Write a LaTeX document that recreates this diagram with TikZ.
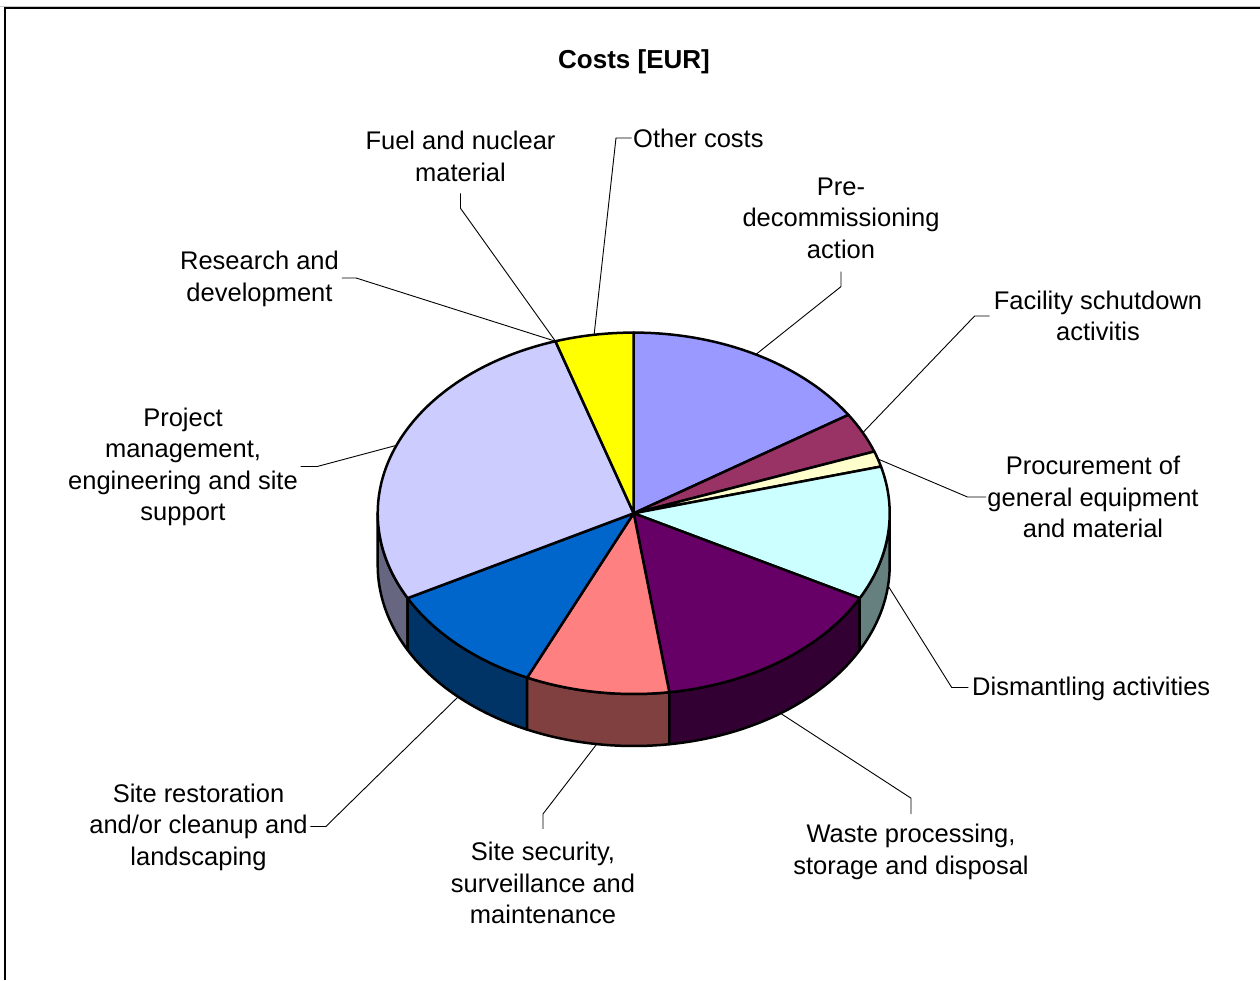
\documentclass[tikz,border=0pt]{standalone}
\usepackage{fontspec}
\setmainfont{Liberation Sans}
\definecolor{cPre}{HTML}{9999FF}
\definecolor{cFac}{HTML}{993366}
\definecolor{cProc}{HTML}{FFFFCC}
\definecolor{cDism}{HTML}{CCFFFF}
\definecolor{cWaste}{HTML}{660066}
\definecolor{cSec}{HTML}{FF8080}
\definecolor{cRest}{HTML}{0066CC}
\definecolor{cPM}{HTML}{CCCCFF}
\definecolor{cOther}{HTML}{FFFF00}
\definecolor{sDism}{HTML}{668080}
\definecolor{sWaste}{HTML}{330033}
\definecolor{sSec}{HTML}{804040}
\definecolor{sRest}{HTML}{003366}
\definecolor{sPM}{HTML}{666680}
\begin{document}
\begin{tikzpicture}[x=1pt,y=1pt,
  lbl/.style={font=\fontsize{25.5}{31.5}\selectfont, align=center, inner sep=0pt},
  lead/.style={draw=black, line width=0.9pt},
  slice/.style={draw=black, line width=2.5pt, line join=round},
  ell/.style={x radius=256pt, y radius=180.7pt}]
\useasboundingbox (0,0) rectangle (1260,980);
% frame
\draw[gray!45, line width=1pt] (0,973.6) -- (1260,973.6);
\draw[black, line width=1.7pt] (5.3,0) -- (5.3,971.8) -- (1260,971.8);
% title
\node[lbl, font=\fontsize{26}{31.5}\selectfont\bfseries] (title) at (634,918) {Costs [EUR]};
% pie
\begin{scope}[shift={(633.7,466.7)}]
  % sides
  \filldraw[slice, fill=sPM] (-180:256pt and 180.7pt) arc[ell, start angle=-180, end angle=-152] -- ++(0,-52) arc[ell, start angle=-152, end angle=-180] -- cycle;
  \filldraw[slice, fill=sRest] (-152:256pt and 180.7pt) arc[ell, start angle=-152, end angle=-114.6] -- ++(0,-52) arc[ell, start angle=-114.6, end angle=-152] -- cycle;
  \filldraw[slice, fill=sSec] (-114.6:256pt and 180.7pt) arc[ell, start angle=-114.6, end angle=-82] -- ++(0,-52) arc[ell, start angle=-82, end angle=-114.6] -- cycle;
  \filldraw[slice, fill=sWaste] (-82:256pt and 180.7pt) arc[ell, start angle=-82, end angle=-28] -- ++(0,-52) arc[ell, start angle=-28, end angle=-82] -- cycle;
  \filldraw[slice, fill=sDism] (-28:256pt and 180.7pt) arc[ell, start angle=-28, end angle=0] -- ++(0,-52) arc[ell, start angle=0, end angle=-28] -- cycle;
  % top
  \filldraw[slice, fill=cPre] (0,0) -- (90:256pt and 180.7pt) arc[ell, start angle=90, end angle=33] -- cycle;
  \filldraw[slice, fill=cFac] (0,0) -- (33:256pt and 180.7pt) arc[ell, start angle=33, end angle=20] -- cycle;
  \filldraw[slice, fill=cProc] (0,0) -- (20:256pt and 180.7pt) arc[ell, start angle=20, end angle=15] -- cycle;
  \filldraw[slice, fill=cDism] (0,0) -- (15:256pt and 180.7pt) arc[ell, start angle=15, end angle=-28] -- cycle;
  \filldraw[slice, fill=cWaste] (0,0) -- (-28:256pt and 180.7pt) arc[ell, start angle=-28, end angle=-82] -- cycle;
  \filldraw[slice, fill=cSec] (0,0) -- (-82:256pt and 180.7pt) arc[ell, start angle=-82, end angle=-114.6] -- cycle;
  \filldraw[slice, fill=cRest] (0,0) -- (-114.6:256pt and 180.7pt) arc[ell, start angle=-114.6, end angle=-152] -- cycle;
  \filldraw[slice, fill=cPM] (0,0) -- (208:256pt and 180.7pt) arc[ell, start angle=208, end angle=107.8] -- cycle;
  \filldraw[slice, fill=cOther] (0,0) -- (107.8:256pt and 180.7pt) arc[ell, start angle=107.8, end angle=90] -- cycle;
  % leader anchor points on the pie
  \coordinate (pOther) at (98.9:256pt and 180.7pt);
  \coordinate (pFuel) at (107.8:256pt and 180.7pt);
  \coordinate (pPM) at (157.9:256pt and 180.7pt);
  \coordinate (pPre) at (61.5:256pt and 180.7pt);
  \coordinate (pFac) at (26.5:256pt and 180.7pt);
  \coordinate (pProc) at (17.5:256pt and 180.7pt);
  \coordinate (pDism) at ({256*cos(-6.5)},{180.7*sin(-6.5)-52});
  \coordinate (pWaste) at ({256*cos(-55)},{180.7*sin(-55)-52});
  \coordinate (pSec) at ({256*cos(-98.3)},{180.7*sin(-98.3)-52});
  \coordinate (pRest) at ({256*cos(-133.3)},{180.7*sin(-133.3)-52});
\end{scope}
% labels
\node[lbl, anchor=west] (oc) at (633,842) {Other costs};
\node[lbl] (fuel) at (460.5,823.5) {Fuel and nuclear\\material};
\node[lbl] (rd) at (259.5,701) {Research and\\development};
\node[lbl] (pm) at (183,513) {Project\\management,\\engineering and site\\support};
\node[lbl] (pre) at (841,762) {Pre-\\decommissioning\\action};
\node[lbl] (fac) at (1098,664) {Facility schutdown\\activitis};
\node[lbl] (proc) at (1093,483) {Procurement of\\general equipment\\and material};
\node[lbl, anchor=west] (dism) at (972,291) {Dismantling activities};
\node[lbl] (waste) at (911,128) {Waste processing,\\storage and disposal};
\node[lbl] (sec) at (543,97) {Site security,\\surveillance and\\maintenance};
\node[lbl] (rest) at (198.5,153) {Site restoration\\and/or cleanup and\\landscaping};
% leaders
\draw[lead] (oc.west) ++(-1.3,0) -- ++(-15.7,0) -- (pOther);
\draw[lead] (fuel.south) ++(0,-11.5) -- ++(0,-15) -- (pFuel);
\draw[lead] (rd.east) ++(2.7,1) -- ++(14.3,0) -- (pFuel);
\draw[lead] (pm.east) ++(2.5,0.5) -- ++(16.7,0) -- (pPM);
\draw[lead] (pre.south) ++(0,-13) -- ++(0,-15) -- (pPre);
\draw[lead] (fac.west) ++(-4,0) -- ++(-15,0) -- (pFac);
\draw[lead] (proc.west) ++(-1,0) -- ++(-18.7,0) -- (pProc);
\draw[lead] (dism.west) ++(-3.7,1.5) -- ++(-16.6,0) -- (pDism);
\draw[lead] (waste.north) ++(0,10) -- ++(0,16) -- (pWaste);
\draw[lead] (sec.north) ++(0,13) -- ++(0,15) -- (pSec);
\draw[lead] (rest.east) ++(2.5,0.5) -- ++(15.5,0) -- (pRest);
\end{tikzpicture}
\end{document}
